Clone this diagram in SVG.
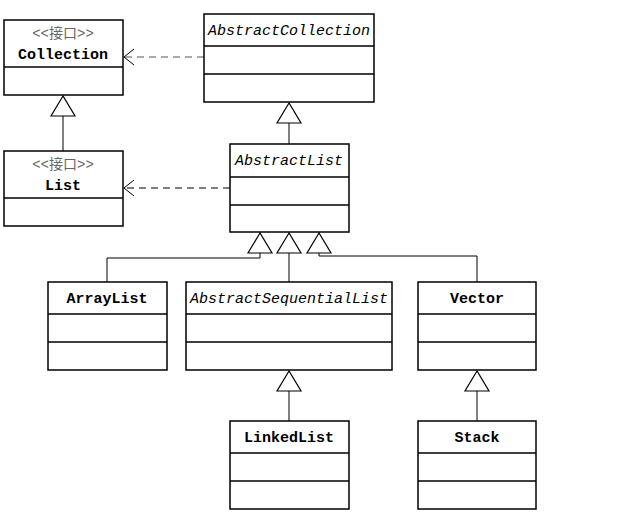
<svg xmlns="http://www.w3.org/2000/svg" width="620" height="515" viewBox="0 0 620 515">
<style>
.b{fill:#fff;stroke:#000;stroke-width:1.5}
.d{stroke:#000;stroke-width:1.5}
.t{font-family:"Liberation Mono","Noto Sans CJK SC",monospace;font-size:15px;font-weight:bold;text-anchor:middle}
.i{font-style:italic;font-weight:normal}
.s{font-family:"Liberation Mono","Noto Sans CJK SC",monospace;font-size:14px;fill:#666;text-anchor:middle}
.l{fill:none;stroke:#000;stroke-width:1}
.tri{fill:#fff;stroke:#000;stroke-width:1.2}
.dash{fill:none;stroke-width:1.2;stroke-dasharray:7,5}
.arr{fill:none;stroke:#000;stroke-width:1}
</style>
<g id="connectors">
<path class="l" d="M63 116V151"/><path class="tri" d="M63 96L51 116H75Z"/>
<path class="l" d="M289 123V144"/><path class="tri" d="M289 103L277 123H301Z"/>
<path class="l" d="M107 282V258H260V253"/><path class="tri" d="M260 233L248 253H272Z"/>
<path class="l" d="M289 253V282"/><path class="tri" d="M289 233L277 253H301Z"/>
<path class="l" d="M477 282V256H319V253"/><path class="tri" d="M319 233L307 253H331Z"/>
<path class="l" d="M289 391V421"/><path class="tri" d="M289 371L277 391H301Z"/>
<path class="l" d="M477 391V421"/><path class="tri" d="M477 371L465 391H489Z"/>
<path class="dash" stroke="#555" d="M204 57H125"/><path class="arr" d="M134 49L124 57L134 65"/>
<path class="dash" stroke="#000" d="M230 188H125"/><path class="arr" d="M134 180L124 188L134 196"/>
</g>
<g id="Collection"><rect class="b" x="4" y="20" width="119" height="75"/><path class="d" d="M4 67H123"/>
<text class="s" x="63" y="38">&lt;&lt;接口&gt;&gt;</text><text class="t" x="63" y="59">Collection</text></g>
<g id="List"><rect class="b" x="4" y="151" width="119" height="75"/><path class="d" d="M4 198H123"/>
<text class="s" x="63" y="169">&lt;&lt;接口&gt;&gt;</text><text class="t" x="63" y="190">List</text></g>
<g id="AbstractCollection"><rect class="b" x="204" y="14" width="170" height="88"/><path class="d" d="M204 46H374M204 74H374"/>
<text class="t i" x="289" y="35">AbstractCollection</text></g>
<g id="AbstractList"><rect class="b" x="230" y="144" width="119" height="88"/><path class="d" d="M230 177H349M230 205H349"/>
<text class="t i" x="289" y="165">AbstractList</text></g>
<g id="ArrayList"><rect class="b" x="48" y="282" width="119" height="88"/><path class="d" d="M48 314H167M48 342H167"/>
<text class="t" x="107" y="303">ArrayList</text></g>
<g id="AbstractSequentialList"><rect class="b" x="186" y="282" width="206" height="88"/><path class="d" d="M186 314H392M186 342H392"/>
<text class="t i" x="289" y="303">AbstractSequentialList</text></g>
<g id="Vector"><rect class="b" x="418" y="282" width="118" height="88"/><path class="d" d="M418 314H536M418 342H536"/>
<text class="t" x="477" y="303">Vector</text></g>
<g id="LinkedList"><rect class="b" x="230" y="421" width="119" height="88"/><path class="d" d="M230 453H349M230 481H349"/>
<text class="t" x="289" y="442">LinkedList</text></g>
<g id="Stack"><rect class="b" x="418" y="421" width="118" height="88"/><path class="d" d="M418 453H536M418 481H536"/>
<text class="t" x="477" y="442">Stack</text></g>
</svg>
